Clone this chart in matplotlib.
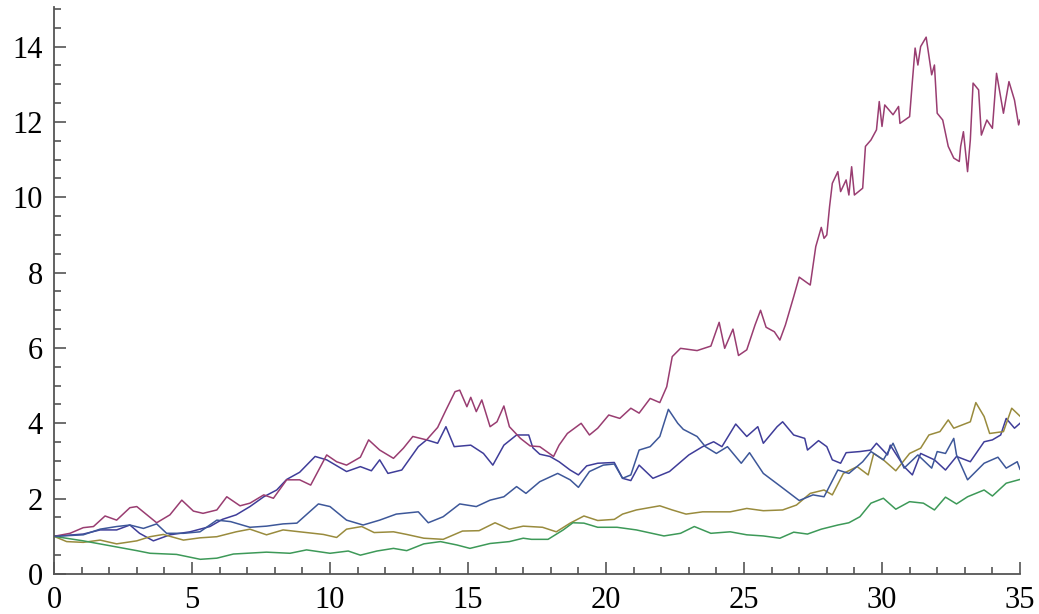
import colorsys
import matplotlib
matplotlib.use("Agg")
import matplotlib.pyplot as plt
from matplotlib.ticker import MultipleLocator

# ---- data (time, value) ----
indigo_t = [0, 1.06, 1.67, 2.27, 2.75, 3.1, 3.6, 4.2, 4.93, 5.65, 6.1, 6.6, 7.1, 7.6, 8.07, 8.43, 8.9,
            9.46, 9.88, 10.6, 11.1, 11.5, 11.8, 12.1, 12.6, 13.2, 13.5, 13.9, 14.2, 14.5, 15.1, 15.56,
            15.9, 16.3, 16.76, 17.2, 17.35, 17.6, 17.97, 18.3, 18.7, 19.0, 19.3, 19.7, 20.3, 20.6, 20.9,
            21.2, 21.7, 22.3, 23.0, 23.5, 23.9, 24.2, 24.7, 25.1, 25.5, 25.7, 26.2, 26.4, 26.8, 27.2,
            27.3, 27.7, 28.0, 28.2, 28.5, 28.7, 29.2, 29.6, 29.8, 30.2, 30.3, 30.8, 31.1, 31.4, 31.9,
            32.3, 32.7, 33.2, 33.7, 34.0, 34.3, 34.5, 34.8, 35.0]
indigo_v = [1.0, 1.06, 1.17, 1.17, 1.30, 1.08, 0.88, 1.04, 1.12, 1.26, 1.45, 1.57, 1.79, 2.05, 2.23, 2.51, 2.70,
            3.12, 3.03, 2.72, 2.85, 2.74, 3.03, 2.67, 2.76, 3.38, 3.56, 3.47, 3.91, 3.38, 3.42, 3.20,
            2.89, 3.42, 3.69, 3.69, 3.35, 3.18, 3.12, 2.98, 2.76, 2.63, 2.87, 2.94, 2.96, 2.54, 2.48,
            2.89, 2.54, 2.72, 3.16, 3.38, 3.51, 3.38, 3.98, 3.65, 3.91, 3.47, 3.91, 4.04, 3.69, 3.60,
            3.29, 3.54, 3.38, 3.03, 2.94, 3.22, 3.25, 3.29, 3.47, 3.16, 3.42, 2.85, 2.63, 3.20, 3.03,
            2.76, 3.12, 2.98, 3.51, 3.56, 3.69, 4.13, 3.87, 4.00]

magenta_t = [0, 0.58, 1.06, 1.43, 1.85, 2.27, 2.75, 3.0, 3.72, 4.2, 4.63, 5.05, 5.4, 5.9, 6.26, 6.74, 7.1,
             7.6, 7.95, 8.43, 8.9, 9.3, 9.88, 10.24, 10.6, 11.1, 11.4, 11.8, 12.3, 12.66, 13.0, 13.5,
             13.9, 14.2, 14.53, 14.7, 14.96, 15.1, 15.3, 15.5, 15.8, 16.05, 16.3, 16.5, 16.9, 17.25,
             17.6, 18.1, 18.3, 18.6, 19.1, 19.4, 19.7, 20.1, 20.5, 20.9, 21.2, 21.6, 21.95, 22.2, 22.4,
             22.7, 23.3, 23.8, 24.1, 24.3, 24.6, 24.8, 25.1, 25.4, 25.6, 25.8, 26.1, 26.3, 26.5, 26.8,
             27.0, 27.4, 27.6, 27.8, 27.9, 28.0, 28.1, 28.2, 28.4, 28.5, 28.7, 28.8, 28.9, 29.0, 29.3,
             29.4, 29.6, 29.8, 29.9, 30.0, 30.1, 30.4, 30.6, 30.65, 31.0, 31.1, 31.2, 31.3, 31.4, 31.6,
             31.8, 31.9, 32.0, 32.2, 32.4, 32.6, 32.8, 32.85, 32.95, 33.1, 33.2, 33.3, 33.4, 33.5, 33.6,
             33.8, 34.0, 34.15, 34.4, 34.6, 34.8, 34.95, 35.0]
magenta_v = [1.0, 1.08, 1.23, 1.26, 1.54, 1.43, 1.76, 1.79, 1.36, 1.57, 1.96, 1.67, 1.61, 1.70, 2.05, 1.81, 1.88,
             2.10, 2.01, 2.50, 2.50, 2.36, 3.16, 2.98, 2.89, 3.10, 3.56, 3.29, 3.07, 3.34, 3.65, 3.56,
             3.89, 4.35, 4.84, 4.88, 4.44, 4.69, 4.31, 4.62, 3.91, 4.04, 4.46, 3.91, 3.60, 3.40,
             3.38, 3.12, 3.42, 3.73, 4.00, 3.69, 3.87, 4.22, 4.13, 4.40, 4.27, 4.66, 4.55, 4.97, 5.77,
             5.99, 5.93, 6.05, 6.68, 5.99, 6.50, 5.80, 5.95, 6.61, 7.00, 6.55, 6.43, 6.21, 6.61, 7.36,
             7.88, 7.67, 8.69, 9.20, 8.91, 9.00, 9.75, 10.37, 10.68, 10.15, 10.46, 10.06, 10.81, 10.06, 10.24,
             11.35, 11.52, 11.79, 12.54, 11.88, 12.45, 12.19, 12.41, 11.96, 12.14, 13.07, 13.96, 13.51, 14.00, 14.25,
             13.25, 13.51, 12.23, 12.05, 11.35, 11.04, 10.95, 11.35, 11.74, 10.68, 11.52, 13.03, 12.94, 12.85, 11.65,
             12.05, 11.83, 13.29, 12.23, 13.07, 12.58, 11.92, 12.05]

olive_t = [0, 0.46, 1.06, 1.67, 2.27, 3.0, 3.48, 3.96, 4.69, 5.29, 5.9, 6.6, 7.1, 7.7, 8.3, 8.9, 9.15, 9.76,
           10.24, 10.6, 11.15, 11.6, 12.3, 12.78, 13.4, 14.1, 14.8, 15.4, 15.98, 16.5, 17.0, 17.7, 18.2,
           18.7, 19.2, 19.7, 20.3, 20.6, 21.1, 21.95, 22.4, 22.9, 23.5, 24.0, 24.5, 25.1, 25.7, 26.4,
           26.9, 27.4, 27.9, 28.2, 28.6, 29.1, 29.5, 29.7, 30.05, 30.5, 31.0, 31.4, 31.7, 32.1, 32.4,
           32.6, 33.2, 33.4, 33.7, 33.9, 34.4, 34.7, 35.0]
olive_v = [1.0, 0.86, 0.84, 0.90, 0.80, 0.88, 0.99, 1.05, 0.90, 0.96, 0.99, 1.12, 1.19, 1.04, 1.17, 1.12, 1.10, 1.05,
           0.97, 1.19, 1.26, 1.10, 1.12, 1.05, 0.95, 0.92, 1.14, 1.15, 1.36, 1.19, 1.27, 1.24, 1.12,
           1.35, 1.54, 1.42, 1.45, 1.59, 1.70, 1.81, 1.70, 1.59, 1.65, 1.65, 1.65, 1.74, 1.68, 1.70,
           1.83, 2.14, 2.23, 2.10, 2.67, 2.85, 2.63, 3.20, 3.03, 2.74, 3.20, 3.34, 3.69, 3.78, 4.09,
           3.87, 4.04, 4.55, 4.18, 3.73, 3.78, 4.40, 4.19]

green_t = [0, 1.06, 2.03, 3.0, 3.48, 4.44, 5.3, 5.9, 6.5, 7.7, 8.55, 9.15, 10.0, 10.66, 11.1, 11.7, 12.3,
           12.78, 13.4, 14.0, 14.6, 15.07, 15.8, 16.5, 17.0, 17.3, 17.9, 18.45, 18.8, 19.2, 19.7, 20.4,
           21.1, 22.1, 22.7, 23.2, 23.8, 24.5, 25.1, 25.7, 26.3, 26.8, 27.3, 27.8, 28.4, 28.8, 29.2,
           29.6, 30.05, 30.5, 31.0, 31.5, 31.9, 32.3, 32.7, 33.1, 33.7, 34.0, 34.5, 35.0]
green_v = [1.0, 0.88, 0.75, 0.62, 0.55, 0.52, 0.39, 0.42, 0.53, 0.58, 0.55, 0.64, 0.55, 0.61, 0.50, 0.61, 0.68,
           0.62, 0.80, 0.86, 0.77, 0.68, 0.81, 0.86, 0.95, 0.92, 0.92, 1.17, 1.36, 1.35, 1.24, 1.24,
           1.17, 1.01, 1.08, 1.26, 1.08, 1.12, 1.04, 1.01, 0.95, 1.11, 1.06, 1.19, 1.30, 1.36, 1.52,
           1.88, 2.01, 1.72, 1.92, 1.88, 1.70, 2.04, 1.86, 2.05, 2.23, 2.07, 2.41, 2.51]

blue_t = [0, 1.06, 1.67, 2.27, 2.75, 3.24, 3.72, 4.08, 4.69, 5.29, 5.9, 6.4, 7.1, 7.7, 8.3, 8.8, 9.58, 10.0,
          10.6, 11.2, 11.8, 12.4, 13.2, 13.56, 14.1, 14.7, 15.3, 15.8, 16.3, 16.76, 17.1, 17.6, 18.25,
          18.7, 19.0, 19.4, 19.9, 20.3, 20.6, 20.9, 21.2, 21.6, 21.95, 22.26, 22.6, 22.8, 23.3, 23.6,
          24.0, 24.4, 24.9, 25.2, 25.7, 26.3, 27.0, 27.5, 27.9, 28.4, 28.8, 29.3, 29.6, 30.05, 30.4,
          30.8, 31.3, 31.8, 32.0, 32.3, 32.6, 32.7, 33.1, 33.7, 34.2, 34.5, 34.9, 35.0]
blue_v = [1.0, 1.04, 1.19, 1.26, 1.30, 1.21, 1.33, 1.08, 1.08, 1.12, 1.43, 1.39, 1.24, 1.27, 1.33, 1.35, 1.86, 1.79,
          1.43, 1.30, 1.43, 1.59, 1.65, 1.36, 1.52, 1.86, 1.79, 1.96, 2.05, 2.32, 2.14, 2.45, 2.67,
          2.50, 2.30, 2.72, 2.89, 2.92, 2.54, 2.63, 3.29, 3.38, 3.65, 4.37, 4.00, 3.84, 3.65, 3.38,
          3.20, 3.38, 2.94, 3.22, 2.67, 2.34, 1.95, 2.10, 2.05, 2.76, 2.67, 2.98, 3.25, 3.03, 3.47,
          2.81, 3.16, 2.81, 3.25, 3.20, 3.60, 3.16, 2.50, 2.94, 3.10, 2.81, 2.98, 2.78]

x_ticks = [0, 5, 10, 15, 20, 25, 30, 35]
y_ticks = [0, 2, 4, 6, 8, 10, 12, 14]


def hue(h):
    return colorsys.hsv_to_rgb(h, 0.6, 0.6)


series = [
    (indigo_t, indigo_v, hue(0.67)),
    (magenta_t, magenta_v, hue(0.906068)),
    (olive_t, olive_v, hue(0.142136)),
    (green_t, green_v, hue(0.382)),
    (blue_t, blue_v, hue(0.62)),
]

plt.rcParams['font.family'] = ['Liberation Serif', 'DejaVu Serif']

fig = plt.figure(figsize=(10.39, 6.14), dpi=100)
ax = fig.add_axes([54 / 1039, 1 - 574 / 614, 966 / 1039, 567 / 614])

for t, v, c in series:
    ax.plot(t, v, color=c, lw=1.1)

ax.set_xlim(0, 35)
ax.set_ylim(0, 15.05)
ax.set_xticks(x_ticks)
ax.set_yticks(y_ticks)
ax.xaxis.set_minor_locator(MultipleLocator(1))
ax.yaxis.set_minor_locator(MultipleLocator(0.5))

for s in ['top', 'right']:
    ax.spines[s].set_visible(False)
for s in ['left', 'bottom']:
    ax.spines[s].set_color('#555555')
    ax.spines[s].set_linewidth(1.3)

ax.tick_params(which='both', direction='in', color='#555555', width=1.2)
ax.tick_params(which='major', length=8.5, labelsize=22)
ax.tick_params(axis='y', which='major', pad=8)
ax.tick_params(axis='x', which='major', pad=9)
ax.tick_params(which='minor', length=5)

fig.savefig('out.png', dpi=100)
